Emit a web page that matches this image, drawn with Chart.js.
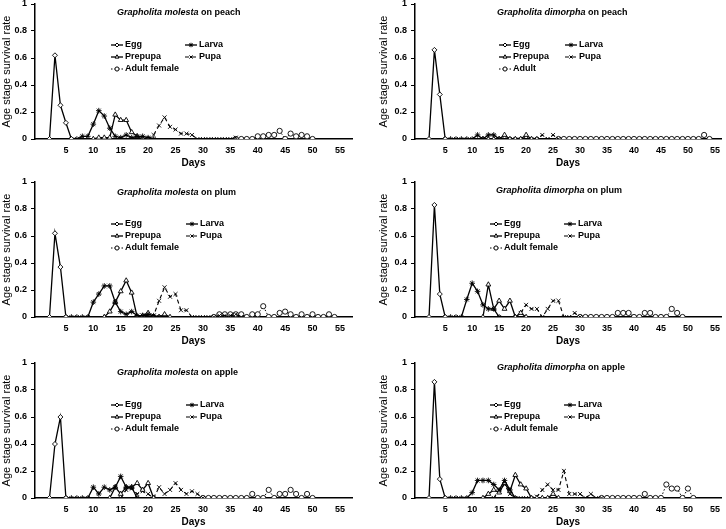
<!DOCTYPE html>
<html>
<head>
<meta charset="utf-8">
<script src="https://cdn.jsdelivr.net/npm/chart.js@4/dist/chart.umd.min.js"></script>
<style>
  body { margin: 0; background: #fff; width: 726px; height: 529px; overflow: hidden; position: relative; }
  canvas { position: absolute; }
</style>
</head>
<body>
<canvas id="molPeach" width="360" height="175" style="left:0;top:-6px"></canvas>
<canvas id="dimPeach" width="349" height="175" style="left:377px;top:-6px"></canvas>
<canvas id="molPlum" width="360" height="175" style="left:0;top:172px"></canvas>
<canvas id="dimPlum" width="349" height="175" style="left:377px;top:172px"></canvas>
<canvas id="molApple" width="360" height="175" style="left:0;top:353px"></canvas>
<canvas id="dimApple" width="349" height="175" style="left:377px;top:353px"></canvas>
<script>
// Noms et repères
const stageNames = ['Egg', 'Larva', 'Prepupa', 'Pupa', 'Adult female'];
const xTicks = [5, 10, 15, 20, 25, 30, 35, 40, 45, 50, 55];

// Premier jour de chaque série : Egg, Larva, Prepupa, Pupa, Adult
const molPeachStart = [2, 6, 10, 20, 36];
const molPeachEgg = [0, 0.62, 0.25, 0.12, 0];
const molPeachLarva = [0, 0, 0.02, 0.02, 0.11, 0.21, 0.17, 0.08, 0.02, 0.01, 0.03, 0.01, 0.02, 0.02, 0.01, 0];
const molPeachPrepupa = [0, 0.01, 0.01, 0.01, 0.18, 0.14, 0.14, 0.05, 0.02, 0, 0];
const molPeachPupa = [0, 0.03, 0.1, 0.16, 0.09, 0.07, 0.04, 0.04, 0.03, 0, 0, 0, 0, 0, 0, 0, 0.01];
const molPeachAdult = [0, 0, 0, 0, 0.02, 0.02, 0.03, 0.03, 0.06, 0, 0.04, 0.02, 0.03, 0.02, 0];

const dimPeachStart = [2, 5, 12, 15, 26];
const dimPeachEgg = [0, 0.66, 0.33, 0];
const dimPeachLarva = [0, 0, 0, 0, 0, 0, 0.03, 0, 0.03, 0.03, 0];
const dimPeachPrepupa = [0, 0, 0, 0, 0.03, 0, 0, 0, 0.03, 0, 0];
const dimPeachPupa = [0, 0, 0, 0, 0, 0, 0, 0, 0.03, 0, 0.03, 0];
const dimPeachAdult = [0, 0, 0, 0, 0, 0, 0, 0, 0, 0, 0, 0, 0, 0, 0, 0, 0, 0, 0, 0, 0, 0, 0, 0, 0, 0, 0, 0.03, 0];

const molPlumStart = [2, 5, 12, 18, 32];
const molPlumEgg = [0, 0.62, 0.37, 0];
const molPlumLarva = [0, 0, 0, 0, 0, 0.11, 0.17, 0.23, 0.23, 0.11, 0.04, 0.02, 0.04, 0.01, 0.01, 0.02, 0.01, 0];
const molPlumPrepupa = [0, 0.04, 0.11, 0.19, 0.27, 0.18, 0, 0.01, 0.03, 0, 0, 0.02, 0];
const molPlumPupa = [0, 0.01, 0.01, 0.01, 0.12, 0.22, 0.15, 0.17, 0.05, 0.05, 0, 0, 0, 0, 0, 0.01, 0.01, 0.01, 0.02, 0];
const molPlumAdult = [0, 0.02, 0.02, 0.02, 0.02, 0.02, 0, 0.02, 0.02, 0.08, 0, 0, 0.03, 0.04, 0.02, 0, 0.02, 0, 0.02, 0, 0, 0.02, 0];

const dimPlumStart = [2, 5, 12, 18, 30];
const dimPlumEgg = [0, 0.83, 0.17, 0];
const dimPlumLarva = [0, 0, 0, 0, 0.13, 0.25, 0.19, 0.09, 0.06, 0.06, 0];
const dimPlumPrepupa = [0, 0.24, 0.06, 0.12, 0.06, 0.12, 0, 0.03, 0];
const dimPlumPupa = [0, 0.03, 0.09, 0.06, 0.06, 0, 0.06, 0.12, 0.12, 0, 0, 0.03, 0];
const dimPlumAdult = [0, 0, 0, 0, 0, 0, 0, 0.03, 0.03, 0.03, 0, 0, 0.03, 0.03, 0, 0, 0, 0.06, 0.03, 0];

const molAppleStart = [2, 5, 13, 15, 30];
const molAppleEgg = [0, 0.4, 0.6, 0];
const molAppleLarva = [0, 0, 0, 0, 0, 0.08, 0.03, 0.08, 0.06, 0.08, 0.16, 0.08, 0.08, 0];
const molApplePrepupa = [0, 0.08, 0.03, 0.08, 0.08, 0.11, 0.06, 0.11, 0];
const molApplePupa = [0, 0.06, 0.07, 0.03, 0.05, 0.03, 0, 0.08, 0.03, 0.06, 0.11, 0.06, 0.03, 0.05, 0.03, 0];
const molAppleAdult = [0, 0, 0, 0, 0, 0, 0, 0, 0, 0.03, 0, 0, 0.06, 0, 0.03, 0.03, 0.06, 0.03, 0, 0.03, 0];

const dimAppleStart = [2, 5, 12, 14, 34];
const dimAppleEgg = [0, 0.86, 0.14, 0];
const dimAppleLarva = [0, 0, 0, 0, 0, 0.04, 0.13, 0.13, 0.13, 0.1, 0.06, 0.13, 0.06, 0];
const dimApplePrepupa = [0, 0.03, 0.06, 0.04, 0.11, 0.05, 0.17, 0.1, 0.07, 0, 0, 0, 0, 0.03, 0];
const dimApplePupa = [0, 0.06, 0.1, 0.03, 0, 0, 0, 0, 0.01, 0.06, 0.1, 0.06, 0.06, 0.2, 0.03, 0.03, 0.03, 0, 0.03, 0, 0];
const dimAppleAdult = [0, 0, 0, 0, 0, 0, 0, 0, 0.03, 0, 0, 0, 0.1, 0.07, 0.07, 0, 0.07, 0];

const FONT = '"Liberation Sans", Arial, sans-serif';
Chart.defaults.font.family = FONT;
Chart.defaults.color = '#000';

// style de chaque stade (même ordre que stageNames)
const stageStyles = [
    { pointStyle: 'rectRot', pointRadius: 2.5, borderDash: [], borderWidth: 1.3 },
    { pointStyle: 'star', pointRadius: 2.8, borderDash: [], borderWidth: 1.3 },
    { pointStyle: 'triangle', pointRadius: 2.8, borderDash: [], borderWidth: 1.3 },
    { pointStyle: 'crossRot', pointRadius: 2.8, borderDash: [4, 3], borderWidth: 1.1 },
    { pointStyle: 'circle', pointRadius: 2.6, borderDash: [1.5, 2], borderWidth: 1 }
];

function toPoints(start, values) {
    return values.map((v, i) => ({ x: start + i, y: v }));
}

// titre + légende dessinés à l'intérieur de la zone du graphique
const panelDecor = {
    id: 'panelDecor',
    afterDraw(chart, args, o) {
        const ctx = chart.ctx;
        const a = chart.chartArea;
        ctx.save();
        ctx.fillStyle = '#000';
        ctx.textBaseline = 'middle';
        ctx.textAlign = 'left';
        let tx = a.left + o.titleX;
        const ty = a.top + o.titleY;
        ctx.font = 'italic bold 9px ' + FONT;
        ctx.fillText(o.species, tx, ty);
        tx += ctx.measureText(o.species).width;
        ctx.font = 'bold 9px ' + FONT;
        ctx.fillText(' on ' + o.host, tx, ty);

        chart.data.datasets.forEach((ds, i) => {
            const lx = a.left + (i % 2 ? o.legendX2 : o.legendX1);
            const ly = a.top + o.legendY + Math.floor(i / 2) * 12;
            ctx.strokeStyle = '#000';
            ctx.lineWidth = ds.borderWidth;
            ctx.setLineDash(ds.borderDash);
            ctx.beginPath();
            ctx.moveTo(lx, ly);
            ctx.lineTo(lx + 12, ly);
            ctx.stroke();
            ctx.setLineDash([]);
            ctx.fillStyle = '#fff';
            ctx.lineWidth = 1;
            Chart.helpers.drawPoint(ctx, { pointStyle: ds.pointStyle, radius: ds.pointRadius * 0.8, rotation: 0, borderWidth: 1 }, lx + 6, ly);
            ctx.fillStyle = '#000';
            ctx.font = 'bold 9px ' + FONT;
            ctx.fillText(ds.label, lx + 14, ly);
        });
        ctx.restore();
    }
};

function makePanel(id, right, starts, series, species, host, decor) {
    const labels = stageNames.slice();
    if (host === 'peach' && species === 'Grapholita dimorpha') labels[4] = 'Adult';
    const datasets = series.map((vals, i) => ({
        label: labels[i],
        data: toPoints(starts[i], vals),
        borderColor: '#000',
        borderWidth: stageStyles[i].borderWidth,
        borderDash: stageStyles[i].borderDash,
        pointStyle: stageStyles[i].pointStyle,
        pointRadius: stageStyles[i].pointRadius,
        pointBorderColor: '#000',
        pointBackgroundColor: '#fff',
        pointBorderWidth: 0.9,
        fill: false,
        tension: 0
    }));
    new Chart(document.getElementById(id), {
        type: 'line',
        data: { datasets: datasets },
        options: {
            responsive: false,
            animation: false,
            devicePixelRatio: 1,
            layout: { padding: { top: 10, right: right ? 0 : 8, left: 0, bottom: 0 } },
            plugins: {
                legend: { display: false },
                tooltip: { enabled: false },
                panelDecor: Object.assign({ species: species, host: host }, decor)
            },
            scales: {
                x: {
                    type: 'linear',
                    min: right ? -0.6 : -0.64,
                    max: right ? 56.15 : 57.2,
                    afterBuildTicks(s) { s.ticks = xTicks.map(v => ({ value: v })); },
                    ticks: { color: '#000', autoSkip: false, maxRotation: 0, padding: 6, font: { size: 9, weight: 'bold' } },
                    grid: { display: false, drawTicks: false },
                    border: { color: '#000', width: 1.5 },
                    title: { display: true, text: 'Days', color: '#000', padding: 0, font: { size: 10, weight: 'bold' } },
                    afterFit(s) { s.height = 30; s.paddingLeft = 0; s.paddingRight = 0; }
                },
                y: {
                    min: 0,
                    max: 1,
                    ticks: {
                        stepSize: 0.2, color: '#000', padding: 4, font: { size: 9, weight: 'bold' },
                        callback: v => String(Math.round(v * 10) / 10)
                    },
                    grid: { drawOnChartArea: false, color: '#000', tickLength: 4 },
                    border: { color: '#000', width: 1.5 },
                    title: { display: true, text: 'Age stage survival rate', color: '#000', padding: { top: 0, bottom: 0 }, font: { size: 11 } },
                    afterFit(s) { s.width = right ? 38 : 35; s.paddingTop = 0; s.paddingBottom = 0; }
                }
            }
        },
        plugins: [panelDecor]
    });
}

makePanel('molPeach', false, molPeachStart,
    [molPeachEgg, molPeachLarva, molPeachPrepupa, molPeachPupa, molPeachAdult],
    'Grapholita molesta', 'peach', { titleX: 82, titleY: 9, legendX1: 76, legendX2: 150, legendY: 41 });
makePanel('dimPeach', true, dimPeachStart,
    [dimPeachEgg, dimPeachLarva, dimPeachPrepupa, dimPeachPupa, dimPeachAdult],
    'Grapholita dimorpha', 'peach', { titleX: 82, titleY: 9, legendX1: 84, legendX2: 150, legendY: 41 });
makePanel('molPlum', false, molPlumStart,
    [molPlumEgg, molPlumLarva, molPlumPrepupa, molPlumPupa, molPlumAdult],
    'Grapholita molesta', 'plum', { titleX: 82, titleY: 11, legendX1: 76, legendX2: 151, legendY: 42 });
makePanel('dimPlum', true, dimPlumStart,
    [dimPlumEgg, dimPlumLarva, dimPlumPrepupa, dimPlumPupa, dimPlumAdult],
    'Grapholita dimorpha', 'plum', { titleX: 81, titleY: 9, legendX1: 75, legendX2: 149, legendY: 42 });
makePanel('molApple', false, molAppleStart,
    [molAppleEgg, molAppleLarva, molApplePrepupa, molApplePupa, molAppleAdult],
    'Grapholita molesta', 'apple', { titleX: 82, titleY: 10, legendX1: 76, legendX2: 151, legendY: 42 });
makePanel('dimApple', true, dimAppleStart,
    [dimAppleEgg, dimAppleLarva, dimApplePrepupa, dimApplePupa, dimAppleAdult],
    'Grapholita dimorpha', 'apple', { titleX: 82, titleY: 5, legendX1: 75, legendX2: 149, legendY: 42 });
</script>
</body>
</html>
